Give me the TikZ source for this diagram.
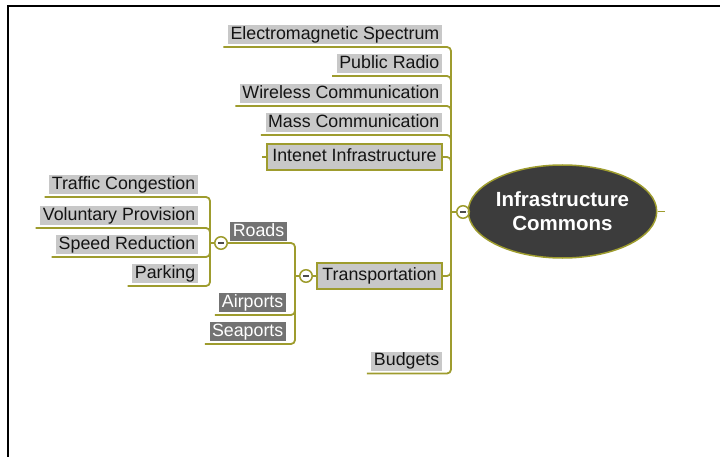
\documentclass[tikz,border=0pt]{standalone}
\usepackage{fontspec}
\setmainfont{Liberation Sans}
\usetikzlibrary{shapes.geometric}
\definecolor{olivel}{RGB}{158,156,46}
\definecolor{boxgray}{RGB}{200,200,200}
\definecolor{darkbox}{RGB}{115,115,115}
\definecolor{rootfill}{RGB}{60,60,60}
\definecolor{txt}{RGB}{20,20,20}
\begin{document}
\begin{tikzpicture}[x=1pt,y=-1pt,
  conn/.style={draw=olivel,line width=1.8pt,rounded corners=4pt},
  leaf/.style={fill=boxgray,text=txt,inner xsep=2.5pt,inner ysep=1pt,text height=13pt,text depth=4pt,font=\fontsize{17.8}{20}\selectfont,anchor=south east},
  darkleaf/.style={leaf,fill=darkbox,text=white},
  framed/.style={leaf,draw=olivel,line width=1.8pt,inner xsep=5.5pt,inner ysep=4.5pt,anchor=east},
  toggle/.style={circle,draw=olivel,fill=white,line width=1.5pt,minimum size=12.5pt,inner sep=0pt,
    path picture={\draw[line width=1.5pt,black!70] ([xshift=-3pt]path picture bounding box.center) -- ([xshift=3pt]path picture bounding box.center);}},
  rootnode/.style={ellipse,draw=olivel,fill=rootfill,line width=1.5pt,minimum width=181pt,minimum height=93pt,text=white,font=\bfseries\fontsize{20.5}{24}\selectfont,align=center,inner sep=0pt}]
\useasboundingbox (0,0) rectangle (720,457);
\draw[line width=2pt] (8,457) -- (8,6) -- (720,6);

% root
\node[rootnode] (root) at (562.5,211.5) {Infrastructure\\Commons};
\node[toggle] (rc) at (463,212) {};
\coordinate (trunk) at (451,212);

% first-level children
\node[leaf] (ems) at (442,44.5) {Electromagnetic Spectrum};
\node[leaf] (pr) at (442,73.5) {Public Radio};
\node[leaf] (wc) at (442,103.5) {Wireless Communication};
\node[leaf] (mc) at (442,132.5) {Mass Communication};
\node[framed] (ii) at (443,157) {Intenet Infrastructure};
\node[framed] (tr) at (443,276) {Transportation};
\node[leaf] (bu) at (442,371) {Budgets};

\foreach \n in {ems,pr,wc,mc,bu}{
  \coordinate (\n U) at ([xshift=-4.5pt,yshift=-2.5pt]\n.south west);
  \draw[conn] (\n U) -- (\n U -| trunk) -- (trunk);
}
\draw[conn] (ii.east) -- (ii.east -| trunk) -- (trunk);
\draw[conn] (ii.west) -- ++(-4,0);
\draw[conn] (tr.east) -- (tr.east -| trunk) -- (trunk);
\draw[conn] (trunk) -- (rc.west);
\draw[conn] (rc.east) -- (root.west);
\draw[conn] (root.east) -- ++(7,0);

% transportation subtree
\node[toggle] (tt) at (306,276) {};
\coordinate (strunk) at (295,276);
\draw[conn] (tr.west) -- (tt.east);
\draw[conn] (tt.west) -- (strunk);
\node[toggle] (rt) at (221,243) {};
\draw[conn] (rt.east) -- (rt.east -| strunk) -- (strunk);
\node[darkleaf] (rd) at (287,241.5) {Roads};
\node[darkleaf] (ap) at (286,312.5) {Airports};
\node[darkleaf] (sp) at (286,341.5) {Seaports};
\foreach \n in {ap,sp}{
  \coordinate (\n U) at ([xshift=-4.5pt,yshift=-2.5pt]\n.south west);
  \draw[conn] (\n U) -- (\n U -| strunk) -- (strunk);
}

% roads subtree
\coordinate (rtrunk) at (210,243);
\draw[conn] (rt.west) -- (rtrunk);
\node[leaf] (tc) at (198,194.5) {Traffic Congestion};
\node[leaf] (vp) at (198,225.5) {Voluntary Provision};
\node[leaf] (sr) at (198,254.5) {Speed Reduction};
\node[leaf] (pk) at (198,283.5) {Parking};
\foreach \n in {tc,vp,sr,pk}{
  \coordinate (\n U) at ([xshift=-4.5pt,yshift=-2.5pt]\n.south west);
  \draw[conn] (\n U) -- (\n U -| rtrunk) -- (rtrunk);
}
\end{tikzpicture}
\end{document}
